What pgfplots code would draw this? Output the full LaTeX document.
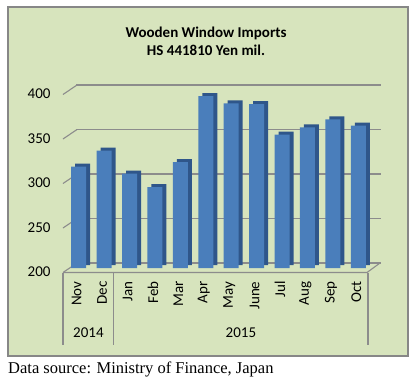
\documentclass[border=0pt]{standalone}
\usepackage{fontspec}
\setmainfont{Carlito}
\newfontfamily\timesfont{Liberation Serif}
\usepackage{pgfplots}
\pgfplotsset{compat=1.18}
\usepackage{pgfplotstable}
\definecolor{bg}{RGB}{215,228,189}
\definecolor{barface}{RGB}{74,126,187}
\definecolor{barside}{RGB}{47,86,138}
\definecolor{gridc}{RGB}{140,140,140}
\definecolor{framec}{RGB}{135,135,135}
\pgfplotstableread{
x v
0 314
1 332
2 306
3 291
4 319
5 393
6 385
7 384
8 350
9 358
10 367
11 360
}\imports
\begin{document}
\begin{tikzpicture}
\path[use as bounding box] (0pt,0pt) rectangle (420pt,384pt);
\draw[line width=2.5pt, draw=framec, fill=bg] (8pt,28pt) rectangle (408pt,377pt);
\node[font=\bfseries\fontsize{15}{18}\selectfont, align=center] at (206pt,343pt) {Wooden Window Imports\\HS 441810 Yen mil.};
\node[anchor=base west, inner sep=0pt, font=\timesfont\fontsize{16.5}{18}\selectfont] at (8pt,11pt) {Data source: Ministry of Finance, Japan};
\begin{axis}[
  at={(66pt,116pt)}, anchor=south west,
  width=305pt, height=178pt, scale only axis,
  xmin=-0.5, xmax=11.5, ymin=200, ymax=400,
  clip=false,
  axis line style={draw=none},
  major tick length=0pt,
  xtick={0,...,11},
  xticklabels={Nov,Dec,Jan,Feb,Mar,Apr,May,June,Jul,Aug,Sep,Oct},
  xticklabel style={xshift=-2pt, yshift=-10pt, rotate=90, anchor=east, font=\fontsize{15}{18}\selectfont},
  ytick={200,250,...,400},
  yticklabel style={anchor=east, xshift=-12pt, yshift=-4pt, font=\fontsize{15}{18}\selectfont},
  /pgf/number format/assume math mode=true,
  ymajorgrids,
  major grid style={draw=gridc, line width=1.3pt, xshift=10pt, yshift=5pt},
]
% floor and left wall edges
\draw[gridc, line width=1.1pt] (axis cs:-0.5,200) ++(-3pt,-4.5pt) -- ++(304pt,0pt) -- ++(13pt,9.5pt);
\pgfplotsinvokeforeach{200,250,...,400}{
  \draw[gridc, line width=1.1pt] (axis cs:-0.5,#1) ++(-3pt,-4.5pt) -- ++(14pt,9.5pt);
}
% group separators
\pgfplotsinvokeforeach{-0.5,1.5,11.5}{
  \draw[gridc, line width=1.1pt] (axis cs:#1,200) ++(-3pt,-4.5pt) -- ++(0pt,-72.5pt);
}
\node[font=\fontsize{15}{18}\selectfont] at (axis cs:0.5,200) [xshift=-3pt, yshift=-65pt] {2014};
\node[font=\fontsize{15}{18}\selectfont] at (axis cs:6.5,200) [xshift=-3pt, yshift=-65pt] {2015};
\addplot[ybar, bar width=15pt, fill=barside, draw=none, xshift=4pt, yshift=3pt] table[x=x, y=v] {\imports};
\addplot[ybar, bar width=15pt, fill=barface, draw=none] table[x=x, y=v] {\imports};
\end{axis}
\end{tikzpicture}
\end{document}
